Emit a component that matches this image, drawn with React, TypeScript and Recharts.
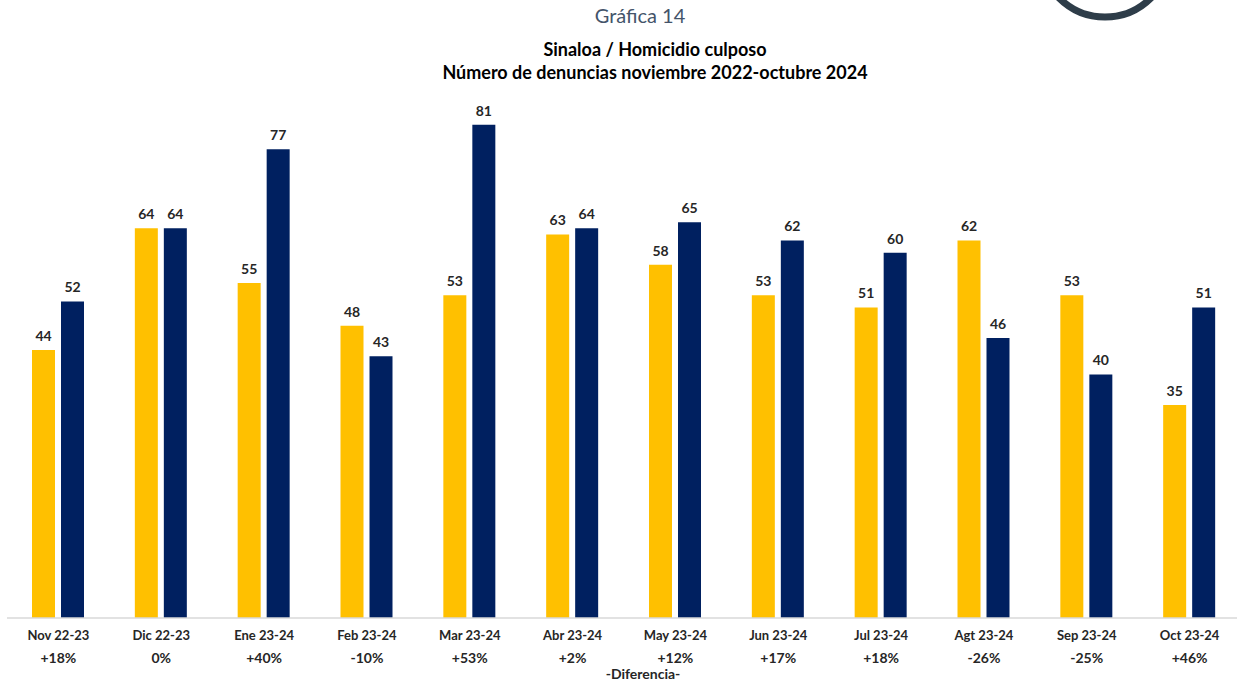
import React from 'react';
import { BarChart, Bar, XAxis, YAxis, LabelList } from 'recharts';

const categories = ['Nov 22-23', 'Dic 22-23', 'Ene 23-24', 'Feb 23-24', 'Mar 23-24', 'Abr 23-24', 'May 23-24', 'Jun 23-24', 'Jul 23-24', 'Agt 23-24', 'Sep 23-24', 'Oct 23-24'];
const previousYear = [44, 64, 55, 48, 53, 63, 58, 53, 51, 62, 53, 35];
const currentYear = [52, 64, 77, 43, 81, 64, 65, 62, 60, 46, 40, 51];
const differences = ['+18%', '0%', '+40%', '-10%', '+53%', '+2%', '+12%', '+17%', '+18%', '-26%', '-25%', '+46%'];

const data = categories.map((name, i) => ({
  name,
  prev: previousYear[i],
  curr: currentYear[i],
  diff: differences[i],
}));

const FONT = 'Lato, "Open Sans", sans-serif';

const CategoryTick = (props: any) => {
  const { x, y, payload, index } = props;
  return (
    <g>
      <text x={x} y={y + 14} textAnchor="middle" fontFamily={FONT} fontWeight={700} fontSize={13} fill="#262626">
        {payload.value}
      </text>
      <text x={x} y={y + 37} textAnchor="middle" fontFamily={FONT} fontWeight={700} fontSize={14} fill="#262626">
        {differences[index]}
      </text>
    </g>
  );
};

export default function App() {
  return (
    <div style={{ position: 'absolute', left: 0, top: 0, width: 1237, height: 684, overflow: 'hidden', background: '#fff' }}>
      <svg width={200} height={40} style={{ position: 'absolute', left: 1005, top: 0 }}>
        <circle cx={100} cy={-48} r={65} fill="none" stroke="#2E3D49" strokeWidth={7} />
      </svg>
      <div style={{ position: 'absolute', top: 3, left: 0, width: 1280, textAlign: 'center', fontFamily: FONT, fontSize: 20, color: '#44546A' }}>
        Gráfica 14
      </div>
      <div style={{ position: 'absolute', top: 38, left: 0, width: 1310, textAlign: 'center', fontFamily: FONT, fontSize: 18, fontWeight: 700, color: '#000', lineHeight: '23px' }}>
        Sinaloa / Homicidio culposo
        <br />
        Número de denuncias noviembre 2022-octubre 2024
      </div>
      <div style={{ position: 'absolute', top: 665, left: 0, width: 1286, textAlign: 'center', fontFamily: FONT, fontSize: 14, fontWeight: 700, color: '#262626' }}>
        -Diferencia-
      </div>
      <BarChart
        width={1241}
        height={684}
        data={data}
        margin={{ top: 70, right: 0, left: 7, bottom: 0 }}
        barGap={6}
        barCategoryGap="24.7%"
      >
        <XAxis
          dataKey="name"
          axisLine={{ stroke: '#D9D9D9', strokeWidth: 1.5 }}
          tickLine={false}
          tick={<CategoryTick />}
          interval={0}
          height={66}
        />
        <YAxis hide domain={[0, 90]} />
        <Bar dataKey="prev" fill="#FFC000" barSize={23} isAnimationActive={false}>
          <LabelList dataKey="prev" position="top" offset={9} fontFamily={FONT} fontWeight={700} fontSize={14} fill="#262626" />
        </Bar>
        <Bar dataKey="curr" fill="#002060" barSize={23} isAnimationActive={false}>
          <LabelList dataKey="curr" position="top" offset={9} fontFamily={FONT} fontWeight={700} fontSize={14} fill="#262626" />
        </Bar>
      </BarChart>
    </div>
  );
}
